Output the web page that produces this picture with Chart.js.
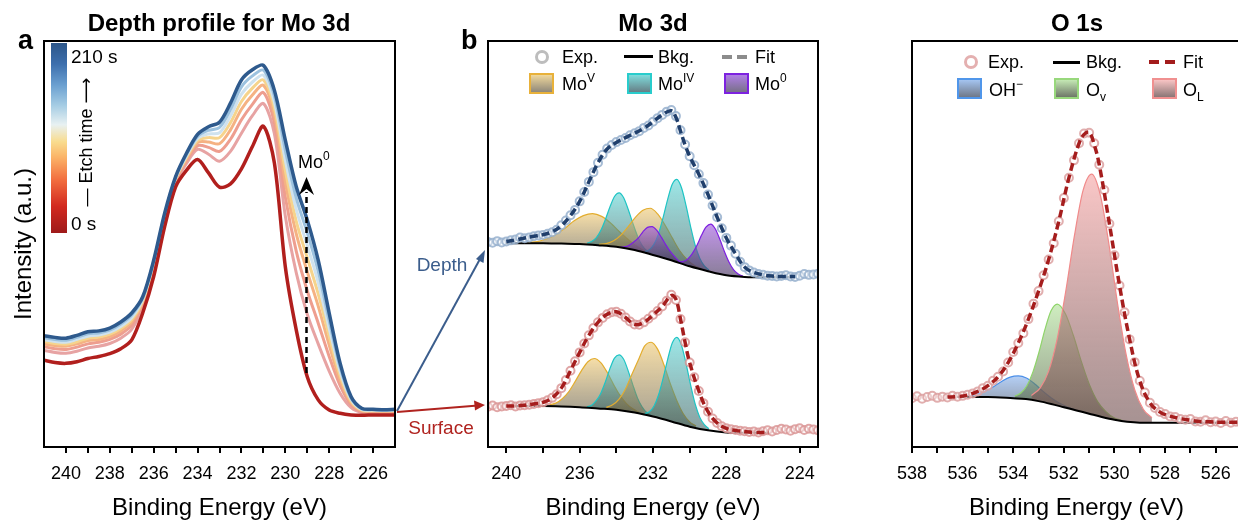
<!DOCTYPE html>
<html>
<head>
<meta charset="utf-8">
<script src="https://cdn.jsdelivr.net/npm/chart.js@4.4.1/dist/chart.umd.min.js"></script>
<style>
  html, body { margin: 0; padding: 0; background: #fff; overflow: hidden; width: 1238px; height: 522px; }
  body { position: relative; font-family: "Liberation Sans", Arial, sans-serif; color: #000; }
  .pane { position: absolute; top: 0; }
  .t { position: absolute; white-space: nowrap; line-height: 1; font-size: 18px; }
  .ttl { position: absolute; width: 400px; text-align: center; font-weight: bold; font-size: 24px; line-height: 1; top: 11px; }
  .lbl { position: absolute; font-weight: bold; font-size: 27px; line-height: 1; top: 27px; }
  .sup { font-size: 12px; position: relative; top: -8px; }
  .sub { font-size: 12px; position: relative; top: 5px; }
  .ring { position: absolute; width: 8px; height: 8px; border-radius: 50%; border: 3px solid #bdbdbd; }
  .bar { position: absolute; height: 3px; background: #000; }
  .sw { position: absolute; width: 21px; height: 17px; border: 2px solid; }
  svg { position: absolute; left: 0; top: 0; }
</style>
</head>
<body>

<div class="pane" style="left:0"><canvas id="chA" width="410" height="527"></canvas></div>
<div class="pane" style="left:420px"><canvas id="chB" width="410" height="527"></canvas></div>
<div class="pane" style="left:860px"><canvas id="chC" width="400" height="527"></canvas></div>

<!-- titles and panel letters -->
<div class="ttl" style="left:19px">Depth profile for Mo 3d</div>
<div class="ttl" style="left:453px">Mo 3d</div>
<div class="ttl" style="left:877px">O 1s</div>
<div class="lbl" style="left:18px">a</div>
<div class="lbl" style="left:461px">b</div>

<!-- colour bar for etch time -->
<div style="position:absolute;left:51px;top:43px;width:16px;height:190px;
  background:linear-gradient(to top,#9e1a1a 0%,#d2291f 14%,#f26e3f 28%,#fbb468 40%,#f9dc8e 48%,#e8f1f2 57%,#a6cde4 67%,#6a9fd0 78%,#3d6fad 89%,#2c5689 100%);"></div>
<div class="t" style="left:71px;top:47px;font-size:19px">210 s</div>
<div class="t" style="left:71px;top:214px;font-size:19px">0 s</div>
<div class="t" style="left:86px;top:142px;transform:translate(-50%,-50%) rotate(-90deg)">&mdash; Etch time <span style="font-family:'DejaVu Sans'">&#x27F6;</span></div>
<div class="t" style="left:298px;top:153px">Mo<span class="sup">0</span></div>

<!-- arrows between panels -->
<div class="t" style="left:392px;width:100px;text-align:center;top:255px;font-size:19px;color:#3b5d8c">Depth</div>
<div class="t" style="left:391px;width:100px;text-align:center;top:418px;font-size:19px;color:#b0231f">Surface</div>

<!-- legend panel b -->
<div class="ring" style="left:535px;top:50px"></div>
<div class="t" style="left:562px;top:48px">Exp.</div>
<div class="bar" style="left:624px;width:29px;top:55px"></div>
<div class="t" style="left:658px;top:48px">Bkg.</div>
<div class="bar" style="left:722px;width:10px;top:55px;height:4px;background:#8c8c8c"></div>
<div class="bar" style="left:737px;width:10px;top:55px;height:4px;background:#8c8c8c"></div>
<div class="t" style="left:755px;top:48px">Fit</div>
<div class="sw" style="left:529px;top:73px;border-color:#e8b13a;background:linear-gradient(#f0d89c,#8f887a)"></div>
<div class="t" style="left:562px;top:75px">Mo<span class="sup">V</span></div>
<div class="sw" style="left:627px;top:73px;border-color:#29cccc;background:linear-gradient(#7fdcdc,#667f86)"></div>
<div class="t" style="left:658px;top:75px">Mo<span class="sup">IV</span></div>
<div class="sw" style="left:724px;top:73px;border-color:#7d22e0;background:linear-gradient(#b07fe6,#787088)"></div>
<div class="t" style="left:755px;top:75px">Mo<span class="sup">0</span></div>

<!-- legend panel c -->
<div class="ring" style="left:964px;top:55px;border-color:#e4b0b0"></div>
<div class="t" style="left:988px;top:53px">Exp.</div>
<div class="bar" style="left:1053px;width:27px;top:61px"></div>
<div class="t" style="left:1086px;top:53px">Bkg.</div>
<div class="bar" style="left:1149px;width:10px;top:60px;height:4px;background:#a31c1c"></div>
<div class="bar" style="left:1165px;width:10px;top:60px;height:4px;background:#a31c1c"></div>
<div class="t" style="left:1183px;top:53px">Fit</div>
<div class="sw" style="left:957px;top:78px;border-color:#5096ea;background:linear-gradient(#a4c4f0,#6f7888)"></div>
<div class="t" style="left:989px;top:81px">OH<span class="sup">&minus;</span></div>
<div class="sw" style="left:1054px;top:78px;border-color:#98d87c;background:linear-gradient(#c4e8b4,#6f7868)"></div>
<div class="t" style="left:1086px;top:81px">O<span class="sub">v</span></div>
<div class="sw" style="left:1152px;top:78px;border-color:#f09090;background:linear-gradient(#f8c4c4,#8a7676)"></div>
<div class="t" style="left:1183px;top:81px">O<span class="sub">L</span></div>

<svg width="1238" height="522">
  <line x1="306.5" y1="373" x2="306.5" y2="192" stroke="#000" stroke-width="2.5" stroke-dasharray="6 4"/>
  <polygon points="306.5,177 299,195 306.5,189 314,195" fill="#000"/>
  <line x1="397" y1="411" x2="480" y2="259" stroke="#3b5d8c" stroke-width="2"/>
  <polygon points="485,250 483.5,263 476,259" fill="#3b5d8c"/>
  <line x1="397" y1="412" x2="475" y2="405.8" stroke="#b0231f" stroke-width="2"/>
  <polygon points="485,405 474,400.5 475,410.5" fill="#b0231f"/>
</svg>

<script>
// ---------- axis ticks (binding energy, eV)
const ticksA = [240, 239, 238, 237, 236, 235, 234, 233, 232, 231, 230, 229, 228, 227, 226];
const ticksB = [240, 238, 236, 234, 232, 230, 228, 226, 224];
const ticksC = [538, 537, 536, 535, 534, 533, 532, 531, 530, 529, 528, 527, 526];

// ---------- panel a: depth profile (binding energy, intensity a.u.)
const eA = [241, 240.5, 240, 239.5, 239, 238.5, 238, 237.5, 237, 236.5, 236, 235.5, 235, 234.5, 234, 233.5,
  233, 232.5, 232, 231.5, 231, 230.5, 230, 229.5, 229, 228.5, 228, 227.5, 227, 226.5, 226, 225.5, 225];
const s0 = [21.4, 20.8, 20.6, 21.0, 21.8, 22.3, 23.0, 24.2, 26.4, 33.0, 42.0, 54.3, 64.1, 68.2, 70.8, 67.5,
  64.0, 64.8, 68.5, 74.0, 79.0, 70.0, 44.4, 28.8, 17.3, 11.6, 9.1, 8.3, 7.9, 7.8, 7.9, 7.9, 7.9];
const s30 = [23.8, 23.3, 23.1, 23.6, 24.4, 24.8, 25.5, 26.8, 29.0, 34.6, 43.6, 55.6, 65.1, 69.9, 73.3, 72.1,
  70.4, 72.8, 77.3, 81.6, 84.6, 77.2, 56.9, 42.9, 32.7, 25.4, 18.7, 13.2, 9.7, 8.5, 8.5, 8.4, 8.5];
const s60 = [24.7, 24.2, 24.0, 24.6, 25.4, 25.8, 26.5, 27.8, 30.0, 35.2, 44.2, 56.1, 65.5, 70.5, 74.2, 73.8,
  72.8, 75.8, 80.6, 84.4, 87.3, 79.9, 61.6, 48.2, 38.5, 30.5, 22.3, 15.1, 10.4, 8.7, 8.7, 8.6, 8.7];
const s90 = [25.4, 25.0, 24.8, 25.4, 26.2, 26.5, 27.2, 28.6, 30.8, 35.7, 44.7, 56.5, 65.8, 71.0, 75.0, 75.1,
  74.7, 78.1, 83.2, 86.7, 89.1, 82.0, 65.3, 52.5, 43.2, 34.7, 25.1, 16.5, 10.9, 8.9, 8.8, 8.8, 8.8];
const s120 = [26.0, 25.5, 25.3, 25.9, 26.8, 27.1, 27.8, 29.2, 31.4, 36.0, 45.0, 56.8, 66.0, 71.4, 75.5, 76.2,
  76.2, 79.9, 85.1, 88.4, 90.4, 83.6, 68.1, 55.6, 46.6, 37.7, 27.3, 17.6, 11.3, 9.1, 9.0, 8.9, 9.0];
const s150 = [26.4, 26.0, 25.8, 26.5, 27.3, 27.6, 28.3, 29.7, 31.9, 36.4, 45.4, 57.1, 66.2, 71.7, 76.0, 77.1,
  77.4, 81.5, 86.9, 89.9, 91.6, 85.0, 70.6, 58.5, 49.7, 40.5, 29.2, 18.6, 11.7, 9.2, 9.1, 9.0, 9.1];
const s180 = [26.9, 26.5, 26.3, 27.0, 27.9, 28.1, 28.8, 30.3, 32.5, 36.7, 45.7, 57.3, 66.4, 72.1, 76.5, 78.0,
  78.7, 83.1, 88.7, 91.4, 92.8, 86.5, 73.1, 61.3, 52.8, 43.3, 31.1, 19.6, 12.0, 9.4, 9.2, 9.1, 9.2];
const s210 = [27.4, 27.0, 26.8, 27.5, 28.4, 28.6, 29.3, 30.8, 33.0, 37.0, 46.0, 57.6, 66.6, 72.4, 77.0, 78.9,
  80.0, 84.7, 90.4, 92.9, 94.0, 87.9, 75.6, 64.1, 55.9, 46.0, 33.0, 20.6, 12.4, 9.5, 9.3, 9.2, 9.3];

// ---------- panel b: Mo 3d fits, depth (upper) and surface (lower)
const eExpB = [241, 240.75, 240.5, 240.25, 240, 239.75, 239.5, 239.25, 239, 238.75, 238.5, 238.25, 238,
  237.75, 237.5, 237.25, 237, 236.75, 236.5, 236.25, 236, 235.75, 235.5, 235.25, 235, 234.75, 234.5, 234.25,
  234, 233.75, 233.5, 233.25, 233, 232.75, 232.5, 232.25, 232, 231.75, 231.5, 231.25, 231, 230.75, 230.5,
  230.25, 230, 229.75, 229.5, 229.25, 229, 228.75, 228.5, 228.25, 228, 227.75, 227.5, 227.25, 227, 226.75,
  226.5, 226.25, 226, 225.75, 225.5, 225.25, 225, 224.75, 224.5, 224.25, 224, 223.75, 223.5, 223.25, 223];
const expDepth = [50.5, 50.3, 50.7, 50.4, 50.6, 50.9, 51.1, 51.6, 51.4, 51.6, 51.9, 52.1, 52.2,
  52.5, 52.9, 53.5, 54.6, 55.8, 57.1, 58.4, 60.5, 62.8, 65.3, 67.7, 70.0, 72.0, 73.5, 74.4,
  75.1, 75.6, 76.1, 76.8, 77.3, 77.8, 78.6, 79.2, 80.1, 81.0, 81.8, 82.6, 83.0, 81.5, 78.0,
  74.5, 71.6, 69.4, 67.2, 65.0, 62.2, 59.5, 56.6, 53.9, 51.5, 49.6, 47.6, 45.6, 44.3, 43.5,
  43.0, 42.6, 42.4, 42.2, 42.1, 42.0, 42.1, 42.3, 42.0, 41.9, 42.2, 42.6, 42.4, 42.5, 42.7];
const expSurf = [9.9, 10.2, 9.8, 10.0, 10.1, 10.3, 10.0, 10.2, 10.3, 10.4, 10.6, 10.8, 11.0,
  11.5, 12.1, 13.0, 14.5, 16.5, 18.8, 21.1, 23.3, 25.5, 27.5, 29.3, 30.7, 31.8, 32.7, 33.2,
  33.3, 32.8, 31.9, 30.9, 30.2, 30.1, 30.7, 31.6, 32.5, 33.5, 34.6, 36.0, 37.5, 36.2, 31.5,
  25.8, 20.8, 17.2, 13.8, 10.8, 8.7, 7.0, 5.9, 5.1, 4.6, 4.4, 4.2, 4.0, 3.9, 3.7,
  3.8, 3.6, 3.9, 4.1, 3.8, 4.2, 4.5, 4.3, 4.0, 4.4, 4.6, 4.2, 4.5, 4.3, 4.1];

const eFitDepth = [240, 239.5, 239, 238.5, 238, 237.5, 237, 236.5, 236, 235.5, 235, 234.5, 234, 233.5, 233,
  232.5, 232, 231.5, 231, 230.75, 230.5, 230.25, 230, 229.5, 229, 228.5, 228, 227.5, 227, 226.5, 226, 225.5,
  225, 224.5, 224.25];
const fitDepth = [50.6, 51.0, 51.5, 51.9, 52.3, 53.0, 54.5, 57.0, 60.5, 65.3, 70.0, 73.4, 75.0, 76.2, 77.3,
  78.5, 80.1, 81.8, 82.8, 81.2, 77.8, 74.4, 71.6, 67.2, 62.2, 56.6, 51.5, 47.6, 44.3, 43.0, 42.4, 42.1,
  42.0, 42.0, 42.0];
const eFitSurf = [240, 239.5, 239, 238.5, 238, 237.5, 237, 236.5, 236, 235.5, 235, 234.5, 234, 233.5, 233,
  232.5, 232, 231.5, 231, 230.75, 230.5, 230.25, 230, 229.5, 229, 228.5, 228, 227.5, 227, 226.5, 226, 225.7];
const fitSurf = [10.1, 10.1, 10.3, 10.6, 11.0, 12.1, 14.5, 18.8, 23.3, 27.5, 30.7, 32.7, 33.3, 31.9, 30.2,
  30.7, 32.5, 34.6, 37.3, 36.4, 31.5, 25.8, 20.8, 13.8, 8.7, 5.9, 4.6, 4.1, 3.8, 3.6, 3.6, 3.6];

const eBkgDepth = [240, 239, 238, 237, 236, 235, 234, 233, 232, 231, 230, 229, 228, 227, 226, 225, 224.25];
const bkgDepth = [50.2, 50.2, 50.2, 50.1, 50.0, 49.7, 49.3, 48.5, 47.3, 46.0, 44.5, 43.3, 42.3, 41.9, 41.8, 41.8, 41.8];
const eBkgSurf = [240, 239, 238, 237, 236, 235, 234, 233, 232, 231, 230, 229, 228, 227, 226, 225.7];
const bkgSurf = [10.1, 10.1, 10.1, 10.0, 9.8, 9.5, 9.2, 8.5, 7.5, 6.3, 5.0, 4.1, 3.6, 3.5, 3.5, 3.5];

// fitted components (absolute, sitting on the background)
const eMoVd1 = [238.8, 238.3, 237.8, 237.3, 236.8, 236.3, 235.8, 235.3, 234.8, 234.3, 233.8, 233.3, 232.8, 232.3, 231.8];
const moVd1 = [50.4, 50.6, 51.3, 52.3, 53.9, 55.7, 57.0, 57.5, 56.8, 55.1, 52.9, 50.9, 49.2, 47.9, 47.1];
const eMoVd2 = [234.95, 234.55, 234.15, 233.75, 233.35, 232.95, 232.55, 232.15, 231.75, 231.35, 230.95, 230.55, 230.15, 229.75, 229.35];
const moVd2 = [49.9, 50.1, 50.8, 52.2, 54.3, 56.6, 58.3, 58.8, 57.4, 54.7, 51.5, 48.4, 46.2, 44.7, 43.9];
const eMoIVd1 = [235.6, 235.35, 235.1, 234.85, 234.6, 234.35, 234.1, 233.85, 233.6, 233.35, 233.1, 232.85, 232.6, 232.35, 232.1];
const moIVd1 = [50.2, 50.6, 51.5, 53.3, 56.0, 59.1, 61.7, 62.6, 61.4, 58.5, 55.1, 52.0, 49.7, 48.4, 47.7];
const eMoIVd2 = [232.45, 232.2, 231.95, 231.7, 231.45, 231.2, 230.95, 230.7, 230.45, 230.2, 229.95, 229.7, 229.45, 229.2, 228.95];
const moIVd2 = [48.1, 48.6, 49.9, 52.5, 56.5, 61.0, 64.7, 65.9, 63.9, 59.5, 54.3, 49.7, 46.5, 44.6, 43.6];
const eMo0d1 = [233.8, 233.55, 233.3, 233.05, 232.8, 232.55, 232.3, 232.05, 231.8, 231.55, 231.3, 231.05, 230.8, 230.55, 230.3];
const mo0d1 = [49.2, 49.3, 49.7, 50.5, 51.5, 53.0, 54.1, 54.3, 53.4, 51.7, 49.8, 48.1, 46.8, 45.7, 45.1];
const eMo0d2 = [230.6, 230.35, 230.1, 229.85, 229.6, 229.35, 229.1, 228.85, 228.6, 228.35, 228.1, 227.85, 227.6, 227.35, 227.1];
const mo0d2 = [45.6, 45.7, 46.3, 47.7, 49.7, 52.2, 54.2, 54.9, 53.7, 51.1, 48.1, 45.5, 43.6, 42.6, 42.1];

const eMoVs1 = [237.65, 237.3, 236.95, 236.6, 236.25, 235.9, 235.55, 235.2, 234.85, 234.5, 234.15, 233.8, 233.45, 233.1, 232.75];
const moVs1 = [10.4, 10.8, 11.9, 13.6, 16.1, 18.8, 21.0, 21.8, 20.8, 18.4, 15.4, 12.7, 10.7, 9.4, 8.5];
const eMoIVs1 = [235.6, 235.35, 235.1, 234.85, 234.6, 234.35, 234.1, 233.85, 233.6, 233.35, 233.1, 232.85, 232.6, 232.35, 232.1];
const moIVs1 = [9.9, 10.3, 11.4, 13.2, 16.0, 19.3, 21.9, 22.7, 21.6, 18.7, 15.3, 12.1, 9.9, 8.5, 7.8];
const eMoVs2 = [234.55, 234.2, 233.85, 233.5, 233.15, 232.8, 232.45, 232.1, 231.75, 231.4, 231.05, 230.7, 230.35, 230.0, 229.65];
const moVs2 = [9.75, 10.4, 11.8, 14.3, 17.9, 21.4, 24.9, 25.8, 24.1, 20.2, 15.5, 11.4, 8.2, 6.2, 5.15];
const eMoIVs2 = [232.45, 232.2, 231.95, 231.7, 231.45, 231.2, 230.95, 230.7, 230.45, 230.2, 229.95, 229.7, 229.45, 229.2, 228.95];
const moIVs2 = [8.2, 8.7, 10.05, 12.8, 16.9, 21.6, 25.6, 27.0, 25.1, 20.6, 15.3, 10.6, 7.35, 5.5, 4.5];

// ---------- panel c: O 1s
const eExpC = [538, 537.8, 537.6, 537.4, 537.2, 537, 536.8, 536.6, 536.4, 536.2, 536, 535.8, 535.6, 535.4,
  535.2, 535, 534.8, 534.6, 534.4, 534.2, 534, 533.8, 533.6, 533.4, 533.2, 533, 532.8, 532.6, 532.4, 532.2,
  532, 531.8, 531.6, 531.4, 531.2, 531, 530.8, 530.6, 530.4, 530.2, 530, 529.8, 529.6, 529.4, 529.2, 529,
  528.8, 528.6, 528.4, 528.2, 528, 527.8, 527.6, 527.4, 527.2, 527, 526.8, 526.6, 526.4, 526.2, 526, 525.8,
  525.6, 525.4, 525.2, 525];
const expO = [12.0, 12.5, 11.9, 12.3, 12.6, 12.1, 12.4, 12.2, 12.6, 12.4, 12.6, 12.9, 13.2, 13.7,
  14.5, 15.1, 16.3, 17.3, 18.6, 20.8, 23.4, 25.6, 28.0, 31.5, 35.3, 38.4, 42.3, 46.2, 50.2, 55.6,
  61.3, 66.3, 70.6, 74.8, 77.2, 77.4, 74.8, 69.5, 63.3, 55.0, 47.2, 39.8, 33.2, 26.5, 20.9, 16.3,
  13.4, 10.9, 9.6, 8.6, 8.1, 7.5, 7.4, 6.9, 6.7, 6.9, 6.3, 6.2, 6.6, 6.1, 6.3, 5.9,
  6.4, 6.0, 6.2, 6.0];
const eFitO = [536.6, 536.2, 535.8, 535.4, 535.0, 534.6, 534.2, 533.8, 533.4, 533.0, 532.6, 532.2, 531.8,
  531.4, 531.2, 531.0, 530.8, 530.6, 530.2, 529.8, 529.4, 529.0, 528.6, 528.2, 527.8, 527.4, 527.0, 526.6,
  526.2, 525.8, 525.4, 525.0];
const fitO = [12.3, 12.4, 12.8, 13.7, 15.1, 17.3, 20.8, 25.6, 31.5, 38.4, 46.2, 55.6, 66.3,
  74.8, 77.0, 77.5, 74.5, 69.5, 55.0, 39.8, 26.5, 16.3, 10.9, 8.6, 7.6, 7.0, 6.6, 6.3,
  6.2, 6.1, 6.1, 6.1];
const eBkgO = [536.2, 535, 534, 533.5, 533, 532.5, 532, 531.5, 531, 530.5, 530, 529.5, 529, 528, 527, 526, 525];
const bkgO = [12.3, 12.3, 12.0, 11.8, 11.3, 10.6, 9.8, 9.0, 8.2, 7.4, 6.7, 6.2, 6.0, 6.0, 6.0, 6.0, 6.0];
const eOH = [536.04, 535.72, 535.4, 535.08, 534.76, 534.44, 534.12, 533.8, 533.48, 533.16, 532.84, 532.52, 532.2, 531.88, 531.56];
const oh = [12.4, 12.6, 13.1, 13.9, 14.9, 16.2, 17.2, 17.5, 17.0, 15.6, 13.8, 12.2, 10.9, 9.9, 9.2];
const eOv = [533.94, 533.7, 533.46, 533.22, 532.98, 532.74, 532.5, 532.26, 531.94, 531.62, 531.3, 530.98, 530.66, 530.34, 530.02, 529.7];
const ov = [12.5, 13.3, 15.1, 18.5, 23.4, 29.1, 33.6, 35.2, 32.8, 27.4, 20.9, 15.2, 11.1, 8.7, 7.2, 6.6];
const eOL = [533.28, 532.94, 532.6, 532.26, 531.92, 531.58, 531.24, 530.9, 530.56, 530.22, 529.88, 529.54, 529.2, 528.86, 528.52];
const ol = [12.7, 14.5, 18.7, 26.7, 38.5, 52.1, 63.2, 67.2, 62.1, 50.0, 35.4, 22.8, 14.1, 9.3, 7.2];

// ---------- helpers
Chart.defaults.font.family = '"Liberation Sans", Arial, sans-serif';
Chart.defaults.color = '#000';

const pts = (xs, ys) => xs.map((x, i) => ({ x, y: ys[i] }));

const frame = {
  id: 'frame',
  afterDraw(chart) {
    const { ctx, chartArea: a } = chart;
    ctx.save();
    ctx.strokeStyle = '#000';
    ctx.lineWidth = 2;
    ctx.strokeRect(a.left, a.top, a.right - a.left, a.bottom - a.top);
    ctx.restore();
  }
};

function xAxis(min, max, tickVals, every) {
  return {
    type: 'linear', reverse: true, min, max,
    afterFit: (s) => { s.height = 80; },
    afterBuildTicks: (s) => { s.ticks = tickVals.map((v) => ({ value: v })); },
    border: { display: false },
    grid: { drawOnChartArea: false, drawTicks: true, tickLength: 6, lineWidth: 2, color: '#000' },
    ticks: {
      autoSkip: false, maxRotation: 0, padding: 10,
      font: { size: 18 }, callback: (v) => (v % every === 0 ? String(v) : '')
    },
    title: { display: true, text: 'Binding Energy (eV)', font: { size: 24 }, padding: { top: 0, bottom: 4 } }
  };
}

const hiddenY = { min: 0, max: 100, display: false };

// vertical gradient from peak top to its base
function peakFill(top, bottom, vals) {
  const hi = Math.max(...vals), lo = Math.min(...vals);
  return (c) => {
    const ch = c.chart;
    if (!ch.chartArea) return top;
    const y = ch.scales.y;
    const g = ch.ctx.createLinearGradient(0, y.getPixelForValue(hi), 0, y.getPixelForValue(lo));
    g.addColorStop(0, top);
    g.addColorStop(1, bottom);
    return g;
  };
}

const comps = {
  moV: ['#e3ad2f', 'rgba(240,200,110,0.6)', 'rgba(90,80,55,0.55)'],
  moIV: ['#1fc4c4', 'rgba(90,215,215,0.6)', 'rgba(45,85,85,0.55)'],
  mo0: ['#7d1fe0', 'rgba(165,95,228,0.65)', 'rgba(60,40,85,0.6)'],
  oh: ['#4a8ee8', 'rgba(130,175,240,0.6)', 'rgba(55,70,95,0.55)'],
  ov: ['#8fd46a', 'rgba(175,225,150,0.6)', 'rgba(70,85,55,0.6)'],
  ol: ['#f08a8a', 'rgba(248,175,175,0.7)', 'rgba(110,75,75,0.6)']
};

function peak(kind, xs, ys, bkgIndex) {
  const [line, top, bottom] = comps[kind];
  return {
    data: pts(xs, ys), borderColor: line, borderWidth: 1.2, pointRadius: 0,
    cubicInterpolationMode: 'monotone', fill: bkgIndex,
    backgroundColor: peakFill(top, bottom, ys)
  };
}

const expSet = (xs, ys, col) => ({
  data: pts(xs, ys), showLine: false, pointRadius: 4, pointBorderWidth: 2,
  pointBorderColor: col, pointBackgroundColor: 'rgba(255,255,255,0.4)'
});
const fitSet = (xs, ys, col) => ({
  data: pts(xs, ys), borderColor: col, borderWidth: 3.5, borderDash: [8, 4],
  pointRadius: 0, tension: 0.4
});
const bkgSet = (xs, ys) => ({
  data: pts(xs, ys), borderColor: '#000', borderWidth: 2, pointRadius: 0,
  cubicInterpolationMode: 'monotone'
});

const baseOpts = {
  responsive: false, animation: false, events: [],
  plugins: { legend: { display: false }, tooltip: { enabled: false } }
};

// ---------- chart a
const lineA = (ys, col, w) => ({ data: pts(eA, ys), borderColor: col, borderWidth: w, pointRadius: 0, tension: 0.3 });
new Chart(document.getElementById('chA'), {
  type: 'line',
  data: {
    datasets: [
      lineA(s210, '#2e5a8d', 3.5),
      lineA(s0, '#b11f1d', 3.5),
      lineA(s180, '#9cc2df', 3),
      lineA(s150, '#cfe2ee', 3),
      lineA(s120, '#f6d48c', 3),
      lineA(s90, '#f5b283', 3),
      lineA(s60, '#ee9e8f', 3),
      lineA(s30, '#e7a3a3', 3)
    ]
  },
  options: {
    ...baseOpts,
    layout: { padding: { left: 0, right: 15, top: 41, bottom: 0 } },
    scales: {
      x: xAxis(225, 241, ticksA, 2),
      y: {
        min: 0, max: 100,
        afterFit: (s) => { s.width = 44; },
        ticks: { display: false }, grid: { display: false }, border: { display: false },
        title: { display: true, text: 'Intensity (a.u.)', font: { size: 24 }, padding: { top: 10, bottom: 0 } }
      }
    }
  },
  plugins: [frame]
});

// ---------- chart b
new Chart(document.getElementById('chB'), {
  type: 'line',
  data: {
    datasets: [
      fitSet(eFitDepth, fitDepth, '#203f6c'),            // 0
      expSet(eExpB, expDepth, 'rgba(150,176,206,0.85)'), // 1
      bkgSet(eBkgDepth, bkgDepth),                       // 2
      fitSet(eFitSurf, fitSurf, '#a51d1d'),              // 3
      expSet(eExpB, expSurf, 'rgba(218,150,150,0.85)'),  // 4
      bkgSet(eBkgSurf, bkgSurf),                         // 5
      peak('mo0', eMo0d2, mo0d2, 2),
      peak('mo0', eMo0d1, mo0d1, 2),
      peak('moIV', eMoIVd2, moIVd2, 2),
      peak('moV', eMoVd2, moVd2, 2),
      peak('moIV', eMoIVd1, moIVd1, 2),
      peak('moV', eMoVd1, moVd1, 2),
      peak('moIV', eMoIVs2, moIVs2, 5),
      peak('moV', eMoVs2, moVs2, 5),
      peak('moIV', eMoIVs1, moIVs1, 5),
      peak('moV', eMoVs1, moVs1, 5)
    ]
  },
  options: {
    ...baseOpts,
    layout: { padding: { left: 68, right: 12, top: 41, bottom: 0 } },
    scales: { x: xAxis(223, 241, ticksB, 4), y: hiddenY }
  },
  plugins: [frame]
});

// ---------- chart c
new Chart(document.getElementById('chC'), {
  type: 'line',
  data: {
    datasets: [
      fitSet(eFitO, fitO, '#a51d1d'),                // 0
      expSet(eExpC, expO, 'rgba(220,160,160,0.85)'), // 1
      bkgSet(eBkgO, bkgO),                           // 2
      peak('ol', eOL, ol, 2),
      peak('ov', eOv, ov, 2),
      peak('oh', eOH, oh, 2)
    ]
  },
  options: {
    ...baseOpts,
    layout: { padding: { left: 52, right: 19, top: 41, bottom: 0 } },
    scales: { x: xAxis(525, 538, ticksC, 2), y: hiddenY }
  },
  plugins: [frame]
});
</script>
</body>
</html>
